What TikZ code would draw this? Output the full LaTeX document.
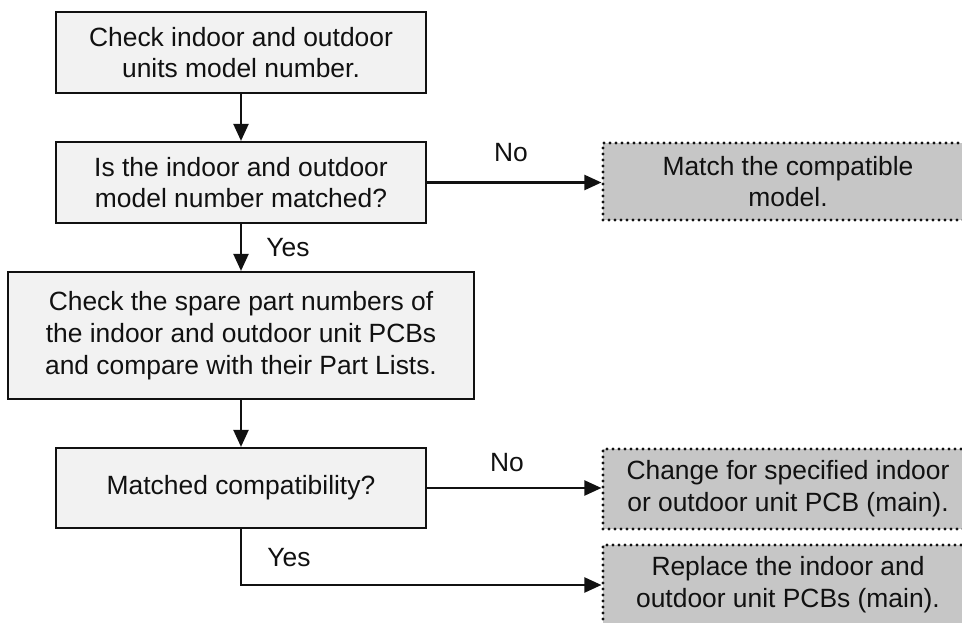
\documentclass[tikz,border=0pt]{standalone}
\usepackage{fontspec}
\setmainfont{Liberation Sans}
\usetikzlibrary{arrows.meta}
\definecolor{boxfill}{HTML}{F2F2F2}
\definecolor{dotfill}{HTML}{C6C6C6}
\definecolor{ink}{HTML}{111111}
\begin{document}
\begin{tikzpicture}[x=1pt,y=-1pt,
  txt/.style={font=\fontsize{26.4}{31.7}\selectfont, text=ink},
  box/.style={txt, draw=ink, line width=2.2pt, fill=boxfill, inner sep=0pt, align=center},
  dotbox/.style={txt, draw=ink, line width=3.1pt, dash pattern=on 0pt off 6pt, line cap=round, fill=dotfill, inner sep=0pt, align=center, minimum width=370pt},
  arr/.style={draw=ink, line width=2.2pt, -{Triangle[length=17pt,width=15pt]}},
  lbl/.style={txt, inner sep=0pt}]
\clip (0,0) rectangle (962,623);
\fill[white] (0,0) rectangle (962,623);
\node[box, minimum width=370pt, minimum height=81pt] (b1) at (241,52.5) {Check indoor and outdoor\\units model number.};
\node[box, minimum width=370pt, minimum height=81pt] (b2) at (241,182.5) {Is the indoor and outdoor\\model number matched?};
\node[box, minimum width=466pt, minimum height=127pt] (b3) at (241,335.5) {Check the spare part numbers of\\the indoor and outdoor unit PCBs\\and compare with their Part Lists.};
\node[box, minimum width=370pt, minimum height=80pt] (b4) at (241,488) {Matched compatibility?};
\node[dotbox, minimum height=77pt] (d1) at (788,181.5) {Match the compatible\\model.};
\node[dotbox, minimum height=80pt] (d2) at (788,489) {Change for specified indoor\\or outdoor unit PCB (main).};
\node[dotbox, minimum height=80pt] (d3) at (788,585) {Replace the indoor and\\outdoor unit PCBs (main).};
\draw[arr] (b1.south) -- (b2.north);
\draw[arr] (b2.south) -- (b3.north);
\draw[arr] (b3.south) -- (b4.north);
\draw[arr] (b2.east) -- (b2.east -| d1.west);
\draw[arr] (b4.east) -- (b4.east -| d2.west);
\draw[arr] (b4.south) |- (d3.west);
\node[lbl] (n1) at (511,153) {No};
\node[lbl] (y1) at (288,248) {Yes};
\node[lbl] (n2) at (507,463) {No};
\node[lbl] (y2) at (289,558) {Yes};
\end{tikzpicture}
\end{document}
